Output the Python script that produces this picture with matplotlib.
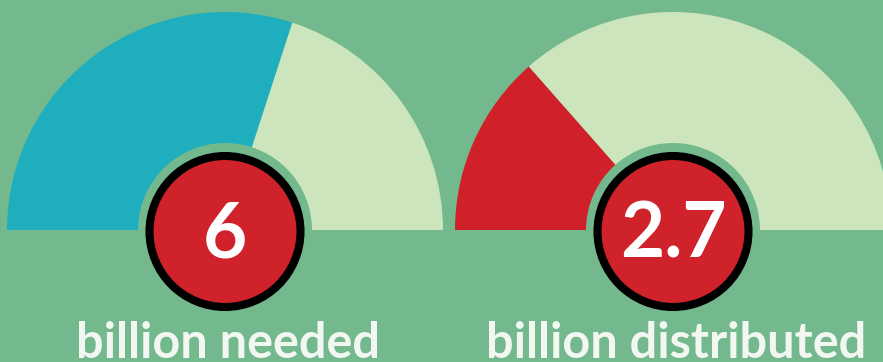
import matplotlib.pyplot as plt
from matplotlib.patches import Wedge, Circle

# gauge data
values = [6, 2.7]
max_value = 10
numbers = ["6", "2.7"]
captions = ["billion needed", "billion distributed"]
fill_colors = ["#1eaebd", "#d02029"]

bg = "#74b98e"
rest_color = "#cde5bc"

W, H = 883, 362
fig = plt.figure(figsize=(W / 100, H / 100), dpi=100)
fig.patch.set_facecolor(bg)
ax = fig.add_axes([0, 0, 1, 1])
ax.set_xlim(0, W)
ax.set_ylim(0, H)
ax.set_aspect("equal")
ax.axis("off")

centers_x = [225, 673]
cy = H - 230
r_out, r_in = 218, 87

for cx, val, num, cap, col in zip(centers_x, values, numbers, captions, fill_colors):
    split = 180 * (1 - val / max_value)
    # filled part of the gauge (from the left) and the remainder
    ax.add_patch(Wedge((cx, cy), r_out, split, 180, width=r_out - r_in,
                       facecolor=col, edgecolor="none"))
    ax.add_patch(Wedge((cx, cy), r_out, 0, split, width=r_out - r_in,
                       facecolor=rest_color, edgecolor="none"))
    # red disc with black border
    ax.add_patch(Circle((cx, cy - 1.5), 75.5, facecolor="#d0222a",
                        edgecolor="black", linewidth=5.8, zorder=3))
    ax.text(cx, cy - 6, num, ha="center", va="center", color="white",
            fontsize=55, fontweight="bold", family="Lato", zorder=4)
    ax.text(cx + 3, H - 358, cap, ha="center", va="baseline", color="#f2f7f2",
            fontsize=35, fontweight="bold", family="Lato")

fig.savefig("out.png", dpi=100, facecolor=bg)
